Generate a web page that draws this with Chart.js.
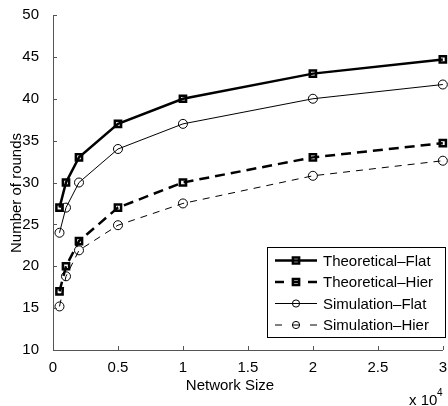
<!DOCTYPE html>
<html>
<head>
<meta charset="utf-8">
<script src="https://cdn.jsdelivr.net/npm/chart.js@4"></script>
<style>
  html, body { margin: 0; padding: 0; background: #fff; }
  canvas { display: block; }
</style>
</head>
<body>
<canvas id="roundsChart" width="448" height="406"></canvas>
<script>
// network sizes (x) and rounds needed for each scheme
const networkSizes = [500, 1000, 2000, 5000, 10000, 20000, 30000];
const theoreticalFlat = [27, 30, 33, 37, 40, 43, 44.7];
const theoreticalHier = [17, 20, 23, 27, 30, 33, 34.7];
const simulationFlat = [24, 27, 30, 34, 37, 40, 41.7];
const simulationHier = [15.2, 18.8, 21.9, 24.9, 27.5, 30.8, 32.6];
const seriesNames = ['Theoretical\u2013Flat', 'Theoretical\u2013Hier', 'Simulation\u2013Flat', 'Simulation\u2013Hier'];

const fontFamily = "'Liberation Sans', Arial, sans-serif";
const axisColor = '#555';

Chart.defaults.font.family = fontFamily;
Chart.defaults.font.size = 15;
Chart.defaults.color = '#000';

function toPoints(values) {
    return values.map((v, i) => ({ x: networkSizes[i], y: v }));
}

const squareMarker = { pointStyle: 'rect', pointRadius: 4.4, pointBorderWidth: 2.5 };
const circleMarker = { pointStyle: 'circle', pointRadius: 4.5, pointBorderWidth: 1 };

const datasets = [
    Object.assign({ label: seriesNames[0], data: toPoints(theoreticalFlat), borderWidth: 2.5, borderDash: [], legendDash: [] }, squareMarker),
    Object.assign({ label: seriesNames[1], data: toPoints(theoreticalHier), borderWidth: 2.5, borderDash: [10, 6], legendDash: [9, 9, 6, 9, 9] }, squareMarker),
    Object.assign({ label: seriesNames[2], data: toPoints(simulationFlat), borderWidth: 1, borderDash: [], legendDash: [] }, circleMarker),
    Object.assign({ label: seriesNames[3], data: toPoints(simulationHier), borderWidth: 1, borderDash: [7, 6], legendDash: [7, 10, 8, 10, 7] }, circleMarker)
].map(ds => Object.assign(ds, {
    borderColor: '#000',
    pointBorderColor: '#000',
    pointBackgroundColor: 'rgba(0,0,0,0)',
    tension: 0,
    clip: false
}));

// inward tick marks, axis titles, exponent note and the boxed legend
const decorations = {
    id: 'decorations',
    afterDraw(chart) {
        const ctx = chart.ctx;
        const area = chart.chartArea;
        const xs = chart.scales.x, ys = chart.scales.y;
        ctx.save();

        ctx.strokeStyle = axisColor;
        ctx.lineWidth = 1;
        ctx.beginPath();
        xs.ticks.forEach(t => {
            const px = Math.round(xs.getPixelForValue(t.value)) + 0.5;
            ctx.moveTo(px, area.bottom);
            ctx.lineTo(px, area.bottom - 4);
        });
        ys.ticks.forEach(t => {
            const py = Math.round(ys.getPixelForValue(t.value)) + 0.5;
            ctx.moveTo(area.left, py);
            ctx.lineTo(area.left + 4, py);
        });
        ctx.stroke();

        ctx.fillStyle = '#000';
        ctx.font = '15px ' + fontFamily;
        ctx.textAlign = 'center';
        ctx.textBaseline = 'middle';
        ctx.fillText('Network Size', 230, 386);

        ctx.save();
        ctx.translate(17, 193);
        ctx.rotate(-Math.PI / 2);
        ctx.fillText('Number of rounds', 0, 0);
        ctx.restore();

        ctx.textAlign = 'left';
        ctx.textBaseline = 'alphabetic';
        ctx.fillText('x 10', 409, 405);
        ctx.font = '10px ' + fontFamily;
        ctx.fillText('4', 437, 396);

        // legend
        const box = { x: 267.5, y: 247.5, w: 178, h: 90 };
        ctx.fillStyle = '#fff';
        ctx.fillRect(box.x, box.y, box.w, box.h);
        ctx.strokeStyle = '#000';
        ctx.lineWidth = 1;
        ctx.strokeRect(box.x, box.y, box.w, box.h);

        ctx.font = '15px ' + fontFamily;
        ctx.textBaseline = 'middle';
        chart.data.datasets.forEach((ds, i) => {
            const y = 260.5 + i * 21.5;
            ctx.strokeStyle = '#000';
            ctx.lineWidth = ds.borderWidth;
            ctx.setLineDash(ds.legendDash);
            ctx.beginPath();
            ctx.moveTo(275, y);
            ctx.lineTo(317, y);
            ctx.stroke();
            ctx.setLineDash([]);
            ctx.fillStyle = 'rgba(0,0,0,0)';
            ctx.lineWidth = ds.pointBorderWidth;
            Chart.helpers.drawPoint(ctx, {
                pointStyle: ds.pointStyle,
                radius: ds.pointStyle === 'rect' ? ds.pointRadius : 3.6,
                rotation: 0,
                borderWidth: ds.pointBorderWidth
            }, 296, y);
            ctx.fillStyle = '#000';
            ctx.fillText(ds.label, 323, y + 1);
        });

        ctx.restore();
    }
};

new Chart(document.getElementById('roundsChart'), {
    type: 'line',
    data: { datasets: datasets },
    options: {
        responsive: false,
        animation: false,
        devicePixelRatio: 1,
        layout: { autoPadding: false, padding: { left: 0, right: 2, top: 14, bottom: 0 } },
        plugins: {
            legend: { display: false },
            tooltip: { enabled: false }
        },
        scales: {
            x: {
                type: 'linear',
                min: 0,
                max: 30000,
                afterFit: scale => { scale.height = 56; },
                grid: { display: false },
                border: { display: true, color: axisColor, width: 1 },
                ticks: {
                    stepSize: 5000,
                    autoSkip: false,
                    maxRotation: 0,
                    padding: 1,
                    callback: v => String(v / 10000)
                }
            },
            y: {
                min: 10,
                max: 50,
                afterFit: scale => { scale.width = 53; },
                grid: { display: false },
                border: { display: true, color: axisColor, width: 1 },
                ticks: { stepSize: 5, padding: 6 }
            }
        }
    },
    plugins: [decorations]
});
</script>
</body>
</html>
